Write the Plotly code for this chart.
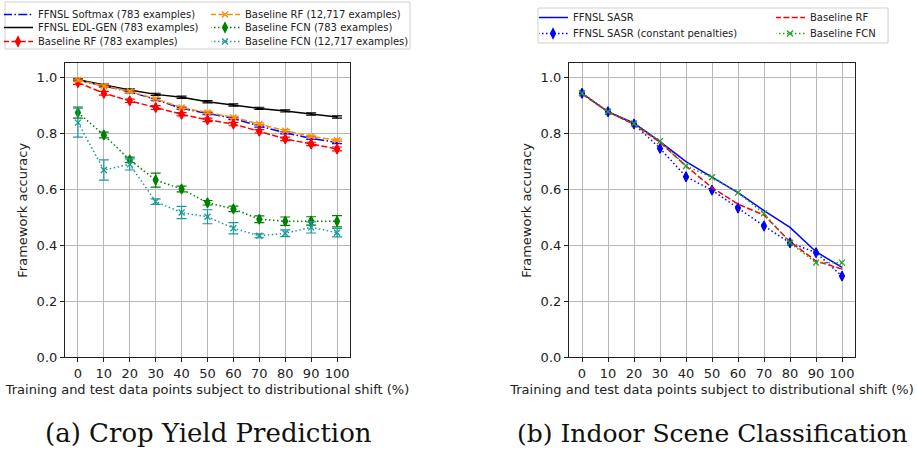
import plotly.graph_objects as go

# Shift levels (% of training/test points under distributional shift)
shift = [0, 10, 20, 30, 40, 50, 60, 70, 80, 90, 100]

# (a) Crop yield prediction accuracies
softmax_783 = [0.990, 0.968, 0.948, 0.921, 0.889, 0.871, 0.853, 0.826, 0.802, 0.782, 0.767]
edlgen_783 = [0.991, 0.972, 0.955, 0.939, 0.929, 0.913, 0.901, 0.889, 0.880, 0.869, 0.858]
rf_783 = [0.981, 0.943, 0.916, 0.892, 0.868, 0.848, 0.833, 0.807, 0.780, 0.762, 0.744]
rf_783_err = [0.006, 0.007, 0.006, 0.007, 0.006, 0.006, 0.006, 0.006, 0.006, 0.006, 0.007]
rf_12717 = [0.990, 0.969, 0.950, 0.923, 0.892, 0.874, 0.857, 0.833, 0.809, 0.789, 0.775]
fcn_783 = [0.874, 0.794, 0.705, 0.633, 0.601, 0.552, 0.530, 0.493, 0.486, 0.487, 0.486]
fcn_783_err = [0.020, 0.010, 0.010, 0.025, 0.010, 0.008, 0.010, 0.012, 0.015, 0.015, 0.020]
fcn_12717 = [0.838, 0.669, 0.689, 0.556, 0.517, 0.502, 0.461, 0.434, 0.443, 0.464, 0.445]
fcn_12717_err = [0.052, 0.036, 0.020, 0.010, 0.022, 0.025, 0.020, 0.007, 0.012, 0.020, 0.015]
small_err = [0.004] * 11

# (b) Indoor scene classification accuracies
sasr = [0.943, 0.877, 0.836, 0.770, 0.699, 0.645, 0.588, 0.524, 0.464, 0.377, 0.321]
sasr_const = [0.943, 0.877, 0.833, 0.746, 0.645, 0.597, 0.533, 0.469, 0.409, 0.374, 0.290]
rf_scene = [0.940, 0.877, 0.832, 0.768, 0.683, 0.606, 0.547, 0.508, 0.413, 0.344, 0.315]
fcn_scene = [0.943, 0.877, 0.835, 0.772, 0.683, 0.643, 0.588, 0.514, 0.409, 0.338, 0.338]

y_ticks = [0.0, 0.2, 0.4, 0.6, 0.8, 1.0]
x_title = "Training and test data points subject to distributional shift (%)"
y_title = "Framework accuracy"
captions = ["(a) Crop Yield Prediction", "(b) Indoor Scene Classification"]

W, H = 917, 450
ML, MT = 8, 8  # small margins so edge legends sit inside the page
FONT = "DejaVu Sans"


def px_x(px):
    return (px - ML) / (W - ML)


def px_y(py):
    return 1 - (py - MT) / (H - MT)


DASH = "6px,2.4px"
DOT = "1.5px,2.5px"
DASHDOT = "9px,2.4px,1.5px,2.4px"


def err(vals, color):
    return dict(type="data", array=vals, visible=True, color=color, thickness=1.2, width=5)


fig = go.Figure()


def add(name, x, y, color, dash, marker, msize, xaxis, yaxis, leg, errv=None, lw=1.5):
    mode = "lines+markers" if marker else "lines"
    fig.add_trace(go.Scatter(
        x=x, y=y, name=name, mode=mode,
        line=dict(color=color, width=lw, dash=dash),
        marker=dict(symbol=marker or "circle", size=msize, color=color,
                    line=dict(color=color, width=1.3)),
        error_y=err(errv, color) if errv else None,
        xaxis=xaxis, yaxis=yaxis, legend=leg,
    ))


add("FFNSL Softmax (783 examples)", shift, softmax_783, "#0000ff", DASHDOT, None, 6, "x", "y", "legend2", small_err)
add("FFNSL EDL-GEN (783 examples)", shift, edlgen_783, "#000000", "solid", None, 6, "x", "y", "legend3", small_err)
add("Baseline RF (783 examples)", shift, rf_783, "#ff0000", DASH, "diamond-tall", 7, "x", "y", "legend4", rf_783_err)
add("Baseline RF (12,717 examples)", shift, rf_12717, "#ff8c00", DASH, "x-thin", 6, "x", "y", "legend5", small_err)
add("Baseline FCN (783 examples)", shift, fcn_783, "#008000", DOT, "diamond-tall", 7, "x", "y", "legend6", fcn_783_err)
add("Baseline FCN (12,717 examples)", shift, fcn_12717, "#1a9a9a", DOT, "x-thin", 6, "x", "y", "legend7", fcn_12717_err)

add("FFNSL SASR", shift, sasr, "#0000ff", "solid", None, 6, "x2", "y2", "legend8")
add("FFNSL SASR (constant penalties)", shift, sasr_const, "#0000ff", DOT, "diamond-tall", 7, "x2", "y2", "legend9")
add("Baseline RF", shift, rf_scene, "#ff0000", DASH, None, 6, "x2", "y2", "legend10")
add("Baseline FCN", shift, fcn_scene, "#22a022", DOT, "x-thin", 6, "x2", "y2", "legend11")

axis_common = dict(
    showline=True, linecolor="#222222", linewidth=1.2, mirror=True,
    showgrid=True, gridcolor="#b8b8b8", gridwidth=1,
    ticks="outside", ticklen=4, tickcolor="#222222",
    tickfont=dict(family=FONT, size=13, color="#222222"),
    zeroline=False, automargin=False,
)
title_font = dict(family=FONT, size=13, color="#222222")

y_dom = [px_y(357.3), px_y(63.3)]
fig.update_layout(
    width=W, height=H,
    margin=dict(l=ML, r=0, t=MT, b=0, autoexpand=False),
    paper_bgcolor="white", plot_bgcolor="white",
    font=dict(family=FONT, size=12, color="#222222"),
    xaxis=dict(domain=[px_x(65), px_x(350)], range=[-5, 105], tickvals=shift, anchor="y",
               title=dict(text=x_title, standoff=4, font=title_font), **axis_common),
    yaxis=dict(domain=y_dom, range=[0, 1.05], tickvals=y_ticks, tickformat=".1f", anchor="x",
               title=dict(text=y_title, standoff=6, font=title_font), **axis_common),
    xaxis2=dict(domain=[px_x(569), px_x(855)], range=[-5, 105], tickvals=shift, anchor="y2",
                title=dict(text=x_title, standoff=4, font=title_font), **axis_common),
    yaxis2=dict(domain=y_dom, range=[0, 1.05], tickvals=y_ticks, tickformat=".1f", anchor="x2",
                title=dict(text=y_title, standoff=6, font=title_font), **axis_common),
)

# Legend entries, each placed on its own so rows stay compact (x, top y in px)
slots = {
    "legend2": (4, 0), "legend3": (4, 13), "legend4": (4, 27),
    "legend5": (211, 0), "legend6": (211, 13), "legend7": (211, 27),
    "legend8": (539, 3), "legend9": (539, 19),
    "legend10": (776, 3), "legend11": (776, 19),
}
for key, (px, py) in slots.items():
    fig.update_layout({key: dict(
        x=px_x(px), y=px_y(py), xanchor="left", yanchor="top",
        xref="paper", yref="paper",
        bgcolor="rgba(0,0,0,0)", borderwidth=0,
        font=dict(family=FONT, size=10, color="#222222"),
        itemwidth=30, tracegroupgap=0, indentation=-6,
    )})

# legend frames
for x0, y0, x1, y1 in [(5, 2, 410, 49), (538, 8, 888, 43)]:
    fig.add_shape(type="rect", xref="paper", yref="paper",
                  x0=px_x(x0), x1=px_x(x1), y0=px_y(y1), y1=px_y(y0),
                  line=dict(color="#d0d0d0", width=1), fillcolor="rgba(0,0,0,0)", layer="below")

# subfigure captions
for cx, text, size in [(208, captions[0], 26), (712, captions[1], 25)]:
    fig.add_annotation(text=text, x=px_x(cx), y=px_y(433), xref="paper", yref="paper",
                       showarrow=False, xanchor="center", yanchor="middle",
                       font=dict(family="DejaVu Serif", size=size, color="#111111"))

fig.write_html("out.html")
